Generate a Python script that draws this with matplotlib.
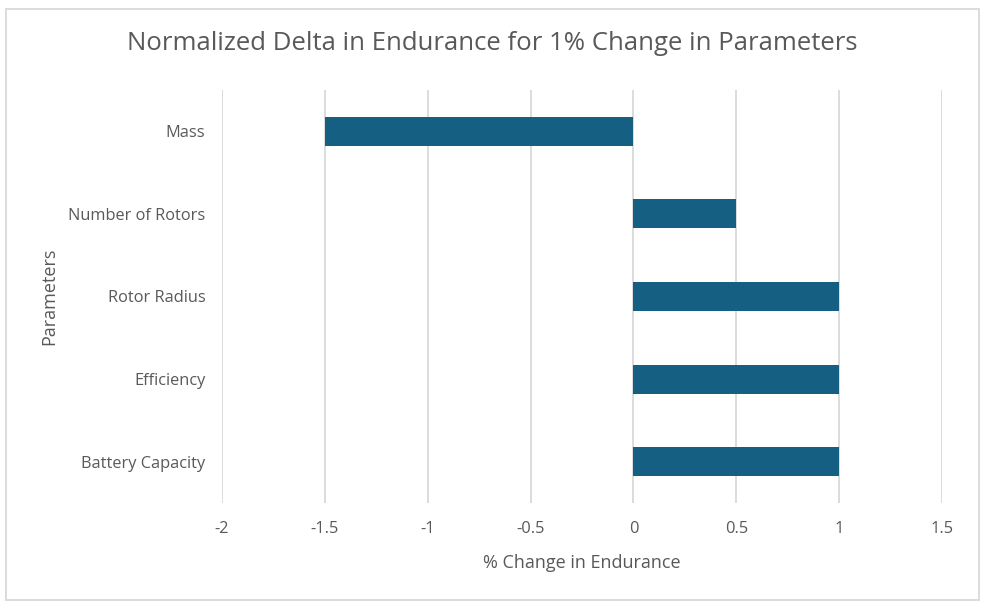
import matplotlib.pyplot as plt
import matplotlib.patches as patches
import numpy as np

# Données
parametres = ['Mass', 'Number of Rotors', 'Rotor Radius', 'Efficiency', 'Battery Capacity']
delta_endurance = [-1.5, 0.5, 1, 1, 1]
x_ticks = [-2, -1.5, -1, -0.5, 0, 0.5, 1, 1.5]

plt.rcParams['font.family'] = ['Open Sans', 'DejaVu Sans']
gris_texte = '#595959'
gris_grille = '#d9d9d9'

fig = plt.figure(figsize=(9.87, 6.10), dpi=100)
ax = fig.add_axes([0.2249, 0.1754, 0.7295, 0.6771])

# Cadre du graphique
cadre = patches.Rectangle((6/987, 1 - 600/610), 973/987, 591/610, transform=fig.transFigure,
                          fill=False, edgecolor=gris_grille, linewidth=1.3)
fig.patches.append(cadre)

y = np.arange(len(parametres))
ax.barh(y, delta_endurance, height=0.35, color='#156082', zorder=3)

ax.set_ylim(len(parametres) - 0.5, -0.5)
ax.set_xlim(-2, 1.5)
ax.set_xticks(x_ticks)
ax.set_xticklabels([f'{v:g}' for v in x_ticks])
ax.set_yticks(y)
ax.set_yticklabels(parametres)

ax.grid(axis='x', color=gris_grille, linewidth=1.3, zorder=0)
ax.grid(axis='y', visible=False)
for s in ax.spines.values():
    s.set_visible(False)
ax.tick_params(axis='both', length=0, colors=gris_texte, labelsize=11.8)
ax.tick_params(axis='x', pad=13)
ax.tick_params(axis='y', pad=12)

ax.set_xlabel('% Change in Endurance', fontsize=13, color=gris_texte, labelpad=12)
ax.set_ylabel('Parameters', fontsize=13, color=gris_texte, labelpad=7)
fig.text(492/987, 1 - 44/610, 'Normalized Delta in Endurance for 1% Change in Parameters',
         ha='center', va='center', fontsize=18.5, color=gris_texte)

fig.savefig('out.png', dpi=100, facecolor='white')
